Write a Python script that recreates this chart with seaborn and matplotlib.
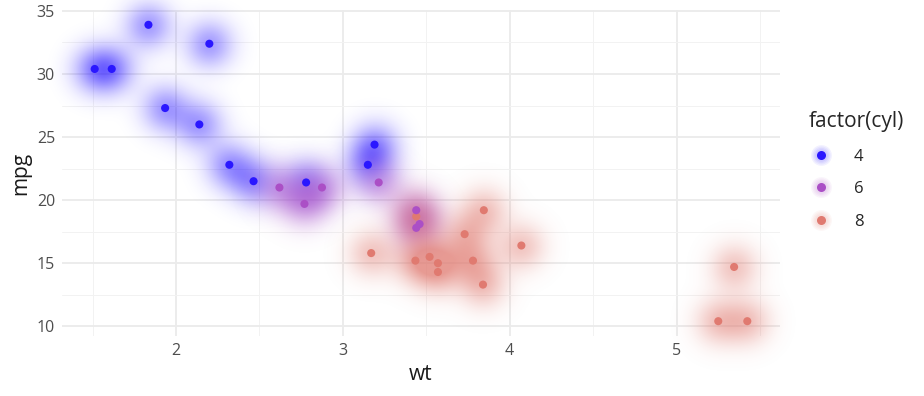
import numpy as np
import pandas as pd
import matplotlib
matplotlib.use("Agg")
import matplotlib.pyplot as plt
import seaborn as sns
from matplotlib.colors import to_rgb
from matplotlib.lines import Line2D
from matplotlib.legend_handler import HandlerTuple

# mtcars: weight, mileage, cylinders
wt = [2.620, 2.875, 2.320, 3.215, 3.440, 3.460, 3.570, 3.190, 3.150, 3.440, 3.440,
      4.070, 3.730, 3.780, 5.250, 5.424, 5.345, 2.200, 1.615, 1.835, 2.465, 3.520,
      3.435, 3.840, 3.845, 1.935, 2.140, 1.513, 3.170, 2.770, 3.570, 2.780]
mpg = [21.0, 21.0, 22.8, 21.4, 18.7, 18.1, 14.3, 24.4, 22.8, 19.2, 17.8,
       16.4, 17.3, 15.2, 10.4, 10.4, 14.7, 32.4, 30.4, 33.9, 21.5, 15.5,
       15.2, 13.3, 19.2, 27.3, 26.0, 30.4, 15.8, 19.7, 15.0, 21.4]
cyl = [6, 6, 4, 6, 8, 6, 8, 4, 4, 6, 6, 8, 8, 8, 8, 8, 8, 4, 4, 4, 4, 8,
       8, 8, 8, 4, 4, 4, 8, 6, 8, 4]
cyl_levels = ["4", "6", "8"]
cyl_colors = ["#2a17ff", "#ab4fc6", "#e07a70"]

df = pd.DataFrame({"wt": wt, "mpg": mpg, "cyl": [str(c) for c in cyl]})
palette = dict(zip(cyl_levels, cyl_colors))


class Glow:
    """agg filter: blur the rendered shapes and paint them in one colour"""
    def __init__(self, color, sigma=11.0, gain=2.0, alpha=0.75):
        self.color = to_rgb(color)
        self.sigma = sigma
        self.gain = gain
        self.alpha = alpha

    def _blur(self, a, axis):
        n = int(3 * self.sigma)
        k = np.exp(-0.5 * (np.arange(-n, n + 1) / self.sigma) ** 2)
        k /= k.sum()
        out = np.zeros_like(a)
        size = a.shape[axis]
        for i, w in zip(range(-n, n + 1), k):
            if axis == 0:
                out[max(i, 0):size + min(i, 0)] += w * a[max(-i, 0):size - max(i, 0)]
            else:
                out[:, max(i, 0):size + min(i, 0)] += w * a[:, max(-i, 0):size - max(i, 0)]
        return out

    def __call__(self, im, dpi):
        pad = int(3 * self.sigma)
        a = np.pad(im[..., 3], pad)
        a = self._blur(self._blur(a, 0), 1)
        out = np.zeros(a.shape + (4,))
        out[..., :3] = self.color
        out[..., 3] = np.clip(a * self.gain, 0, 1) * self.alpha
        return out, -pad, -pad


sns.set_theme(style="white")
plt.rcParams["font.family"] = ["Open Sans", "DejaVu Sans"]

fig = plt.figure(figsize=(9.24, 3.96), dpi=100)
ax = fig.add_axes([62 / 924, 60 / 396, (780 - 62) / 924, (336 - 10) / 396])

# glow layer, one collection per cylinder group
for lev in cyl_levels:
    n_before = len(ax.collections)
    sns.scatterplot(data=df[df["cyl"] == lev], x="wt", y="mpg", color=palette[lev],
                    s=(2 * 10 * 0.72) ** 2, linewidth=0, legend=False, ax=ax, zorder=2)
    glow = ax.collections[n_before]
    glow.set_agg_filter(Glow(palette[lev]))
    glow.set_clip_on(False)

sns.scatterplot(data=df, x="wt", y="mpg", hue="cyl", hue_order=cyl_levels,
                palette=palette, s=34, linewidth=0, alpha=1.0,
                legend=False, ax=ax, zorder=3)

ax.set_xlim(1.317, 5.620)
ax.set_ylim(9.225, 35.075)
ax.set_xticks([2, 3, 4, 5])
ax.set_yticks([10, 15, 20, 25, 30, 35])
ax.set_xticks([1.5, 2.5, 3.5, 4.5, 5.5], minor=True)
ax.set_yticks([12.5, 17.5, 22.5, 27.5, 32.5], minor=True)
ax.grid(which="major", color="#ebebeb", linewidth=1.3, zorder=0)
ax.grid(which="minor", color="#f2f2f2", linewidth=0.7, zorder=0)
ax.set_axisbelow(True)
for s in ax.spines.values():
    s.set_visible(False)
ax.tick_params(which="both", length=0, labelsize=11.5, labelcolor="#4d4d4d", pad=5)
ax.set_xlabel("wt", fontsize=15, color="#1a1a1a", labelpad=4)
ax.set_ylabel("mpg", fontsize=15, color="#1a1a1a", labelpad=4)

handles = []
for c in cyl_colors:
    parts = [Line2D([], [], marker="o", linestyle="", markersize=ms, markeredgewidth=0,
                    markerfacecolor=c, alpha=0.06) for ms in [15, 13, 11, 9]]
    parts.append(Line2D([], [], marker="o", linestyle="", markersize=6.5,
                        markeredgewidth=0, markerfacecolor=c))
    handles.append(tuple(parts))
leg = fig.legend(handles, cyl_levels, title="factor(cyl)",
                 handler_map={tuple: HandlerTuple(ndivide=1, pad=0)},
                 loc="upper left", bbox_to_anchor=(804 / 924, 1 - 106 / 396),
                 frameon=False, fontsize=12, title_fontsize=15,
                 labelspacing=1.0, handlelength=1.4, handletextpad=1.3,
                 borderaxespad=0, borderpad=0.3)
leg._legend_box.align = "left"
leg._legend_box.sep = 12

fig.savefig("out.png", dpi=100)
